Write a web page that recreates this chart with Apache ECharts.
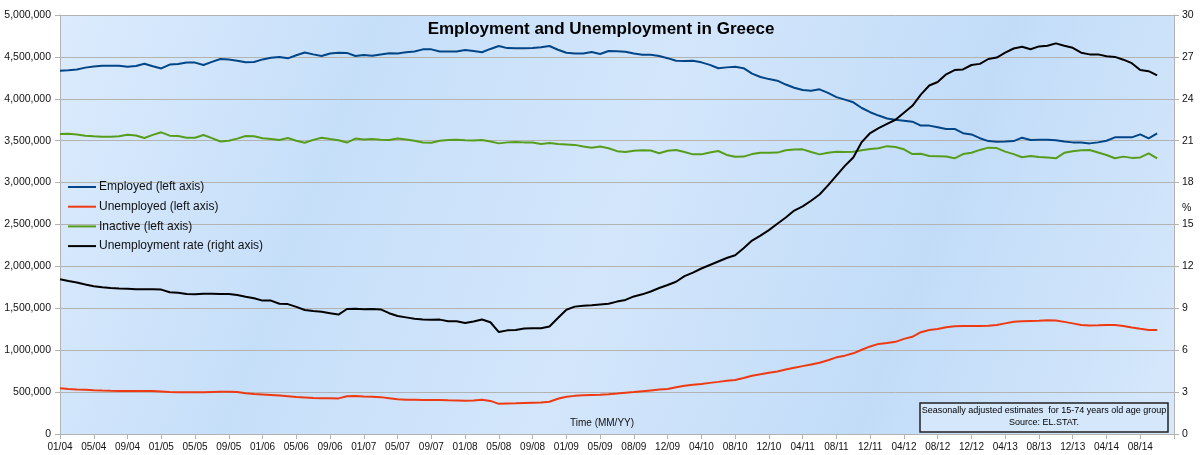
<!DOCTYPE html>
<html>
<head>
<meta charset="utf-8">
<script src="https://cdn.jsdelivr.net/npm/echarts@6/dist/echarts.min.js"></script>
<style>
html,body{margin:0;padding:0;background:#fff;}
#c{width:1202px;height:455px;}
</style>
</head>
<body>
<div id="c"></div>
<script>
// Tick labels shown every 4th period on the time axis
var tickLabels = ['01/04','05/04','09/04','01/05','05/05','09/05','01/06','05/06','09/06','01/07','05/07','09/07','01/08','05/08','09/08','01/09','05/09','08/09','12/09','04/10','08/10','12/10','04/11','08/11','12/11','04/12','08/12','12/12','04/13','08/13','12/13','04/14','08/14'];
var periodCount = 133;

// Employed (thousands)
var employed = [4335,4342,4350,4372,4385,4393,4395,4395,4382,4392,4418,4388,4362,4408,4415,4433,4432,4403,4440,4475,4470,4455,4435,4440,4470,4490,4500,4483,4520,4553,4530,4511,4540,4550,4548,4511,4522,4515,4530,4543,4540,4555,4565,4590,4590,4565,4565,4565,4582,4570,4555,4595,4630,4605,4602,4602,4605,4615,4630,4585,4550,4540,4540,4558,4535,4570,4566,4562,4540,4527,4525,4510,4485,4455,4452,4455,4435,4405,4364,4375,4383,4365,4300,4260,4235,4216,4170,4132,4105,4097,4113,4070,4020,3990,3958,3890,3840,3800,3765,3750,3739,3727,3680,3680,3660,3640,3640,3590,3575,3530,3495,3488,3490,3495,3536,3508,3510,3512,3505,3490,3480,3478,3468,3480,3500,3540,3540,3540,3576,3528,3588];
// Unemployed (thousands)
var unemployed = [545,538,532,527,522,518,515,513,512,512,512,512,508,500,498,497,497,497,500,503,505,500,485,477,472,466,458,450,442,436,430,426,426,425,450,452,448,445,440,428,416,410,408,406,406,405,402,400,398,400,408,395,360,365,366,370,374,377,385,420,445,455,461,465,468,475,483,492,500,510,520,530,538,558,575,588,598,610,622,635,644,668,695,712,730,745,770,790,810,830,850,880,915,935,963,1005,1045,1075,1085,1100,1135,1160,1215,1240,1252,1275,1285,1288,1290,1290,1292,1300,1320,1340,1345,1348,1350,1358,1355,1338,1320,1300,1295,1297,1300,1301,1290,1270,1255,1241,1241];
// Inactive (thousands)
var inactive = [3580,3582,3575,3560,3552,3548,3548,3552,3572,3562,3532,3570,3600,3560,3555,3536,3536,3568,3530,3490,3500,3525,3556,3552,3530,3520,3508,3532,3500,3476,3510,3536,3520,3505,3478,3525,3515,3520,3510,3508,3525,3515,3500,3478,3476,3500,3508,3510,3505,3503,3508,3490,3468,3480,3485,3480,3478,3460,3472,3460,3455,3450,3430,3417,3430,3410,3375,3365,3380,3385,3383,3350,3380,3389,3365,3337,3337,3360,3377,3330,3309,3310,3340,3357,3357,3358,3385,3395,3397,3365,3337,3355,3369,3365,3368,3385,3400,3409,3435,3425,3397,3341,3345,3317,3315,3312,3290,3340,3357,3390,3417,3412,3370,3340,3302,3318,3305,3300,3290,3355,3375,3385,3389,3360,3330,3290,3310,3295,3300,3349,3290];
// Unemployment rate (%)
var rate = [11.08,10.95,10.85,10.7,10.58,10.5,10.45,10.42,10.4,10.37,10.36,10.36,10.34,10.15,10.12,10.03,10.0,10.05,10.05,10.02,10.03,9.95,9.82,9.72,9.55,9.55,9.33,9.3,9.1,8.88,8.8,8.75,8.65,8.55,8.95,8.97,8.93,8.95,8.92,8.65,8.45,8.35,8.25,8.2,8.18,8.19,8.07,8.08,7.95,8.05,8.2,8.0,7.3,7.42,7.45,7.55,7.57,7.57,7.7,8.3,8.9,9.12,9.18,9.22,9.28,9.33,9.48,9.6,9.85,10.0,10.2,10.45,10.67,10.9,11.3,11.55,11.85,12.1,12.35,12.6,12.8,13.3,13.85,14.2,14.6,15.05,15.5,16.0,16.3,16.7,17.15,17.8,18.5,19.2,19.8,20.9,21.55,21.9,22.2,22.5,23.0,23.5,24.3,24.95,25.2,25.75,26.06,26.1,26.42,26.5,26.85,26.95,27.3,27.6,27.73,27.55,27.75,27.8,27.97,27.8,27.65,27.3,27.18,27.18,27.05,27.0,26.8,26.55,26.06,25.98,25.68];

var categories = [];
for (var i = 0; i < periodCount; i++) categories.push(String(i));
function toPersons(arr){ return arr.map(function(v){ return v * 1000; }); }

var FONT = 'Liberation Sans, Arial, sans-serif';
var chart = echarts.init(document.getElementById('c'), null, {renderer:'canvas'});
var option = {
  animation: false,
  backgroundColor: '#ffffff',
  title: {
    text: 'Employment and Unemployment in Greece',
    left: 'center', top: 16,
    textStyle: {fontFamily: FONT, fontSize: 17, fontWeight: 'bold', color: '#000'}
  },
  grid: {
    left: 60, right: 28, top: 15, bottom: 21, containLabel: false,
    show: true, borderWidth: 0,
    backgroundColor: new echarts.graphic.LinearGradient(0, 0, 1, 1, [
      {offset: 0, color: '#dcebfd'},
      {offset: 0.25, color: '#c6dff9'},
      {offset: 0.5, color: '#d3e6fb'},
      {offset: 0.75, color: '#c2dcf8'},
      {offset: 1, color: '#d6e8fb'}
    ])
  },
  legend: {
    orient: 'vertical', left: 63, top: 175,
    itemWidth: 28, itemHeight: 2, itemGap: 5.7, icon: 'rect',
    textStyle: {fontFamily: FONT, fontSize: 12, color: '#111', lineHeight: 14, padding: [0,0,0,-2]},
    data: ['Employed (left axis)','Unemployed (left axis)','Inactive (left axis)','Unemployment rate (right axis)']
  },
  xAxis: {
    type: 'category', boundaryGap: false, data: categories,
    axisLine: {show: true, lineStyle: {color: '#b3b3b3', width: 1}},
    axisTick: {show: true, interval: 3, length: 5, lineStyle: {color: '#b3b3b3'}},
    axisLabel: {
      interval: 3, fontFamily: FONT, fontSize: 10, color: '#111', margin: 8,
      formatter: function(v, idx){ var t = tickLabels[idx / 4]; return t === undefined ? '' : t; }
    },
    splitLine: {show: false}
  },
  yAxis: [{
    type: 'value', min: 0, max: 5000000, interval: 500000, position: 'left',
    axisLine: {show: true, lineStyle: {color: '#b3b3b3'}},
    axisTick: {show: true, length: 5, lineStyle: {color: '#b3b3b3'}},
    axisLabel: {fontFamily: FONT, fontSize: 10.5, color: '#111', margin: 9,
      formatter: function(v){ return v.toString().replace(/\B(?=(\d{3})+(?!\d))/g, ','); }},
    splitLine: {show: true, lineStyle: {color: '#b3b3b3', width: 1}}
  }, {
    type: 'value', min: 0, max: 30, interval: 3, position: 'right',
    axisLine: {show: true, lineStyle: {color: '#b3b3b3'}},
    axisTick: {show: true, length: 5, lineStyle: {color: '#b3b3b3'}},
    axisLabel: {fontFamily: FONT, fontSize: 10.5, color: '#111', margin: 8},
    splitLine: {show: false}
  }],
  series: [
    {name: 'Employed (left axis)', type: 'line', yAxisIndex: 0, data: toPersons(employed), showSymbol: false, lineStyle: {color: '#004586', width: 2}, itemStyle: {color: '#004586'}},
    {name: 'Unemployed (left axis)', type: 'line', yAxisIndex: 0, data: toPersons(unemployed), showSymbol: false, lineStyle: {color: '#ee3a12', width: 2}, itemStyle: {color: '#ee3a12'}},
    {name: 'Inactive (left axis)', type: 'line', yAxisIndex: 0, data: toPersons(inactive), showSymbol: false, lineStyle: {color: '#579d1c', width: 2}, itemStyle: {color: '#579d1c'}},
    {name: 'Unemployment rate (right axis)', type: 'line', yAxisIndex: 1, data: rate, showSymbol: false, lineStyle: {color: '#000000', width: 2}, itemStyle: {color: '#000000'}}
  ],
  graphic: [
    {type: 'text', left: 1182, top: 203, style: {text: '%', fontFamily: FONT, fontSize: 10.5, fill: '#111'}},
    {type: 'text', left: 570, top: 418, style: {text: 'Time (MM/YY)', fontFamily: FONT, fontSize: 10, fill: '#111'}},
    {type: 'rect', shape: {x: 920, y: 403, width: 248, height: 29}, style: {fill: '#d5e7fb', stroke: '#222', lineWidth: 1.5}, z: 10},
    {type: 'text', x: 1044, y: 406, z: 11, style: {text: 'Seasonally adjusted estimates  for 15-74 years old age group', fontFamily: FONT, fontSize: 9, fill: '#000', align: 'center'}},
    {type: 'text', x: 1044, y: 418, z: 11, style: {text: 'Source: EL.STAT.', fontFamily: FONT, fontSize: 9, fill: '#000', align: 'center'}}
  ]
};
chart.setOption(option);
</script>
</body>
</html>
